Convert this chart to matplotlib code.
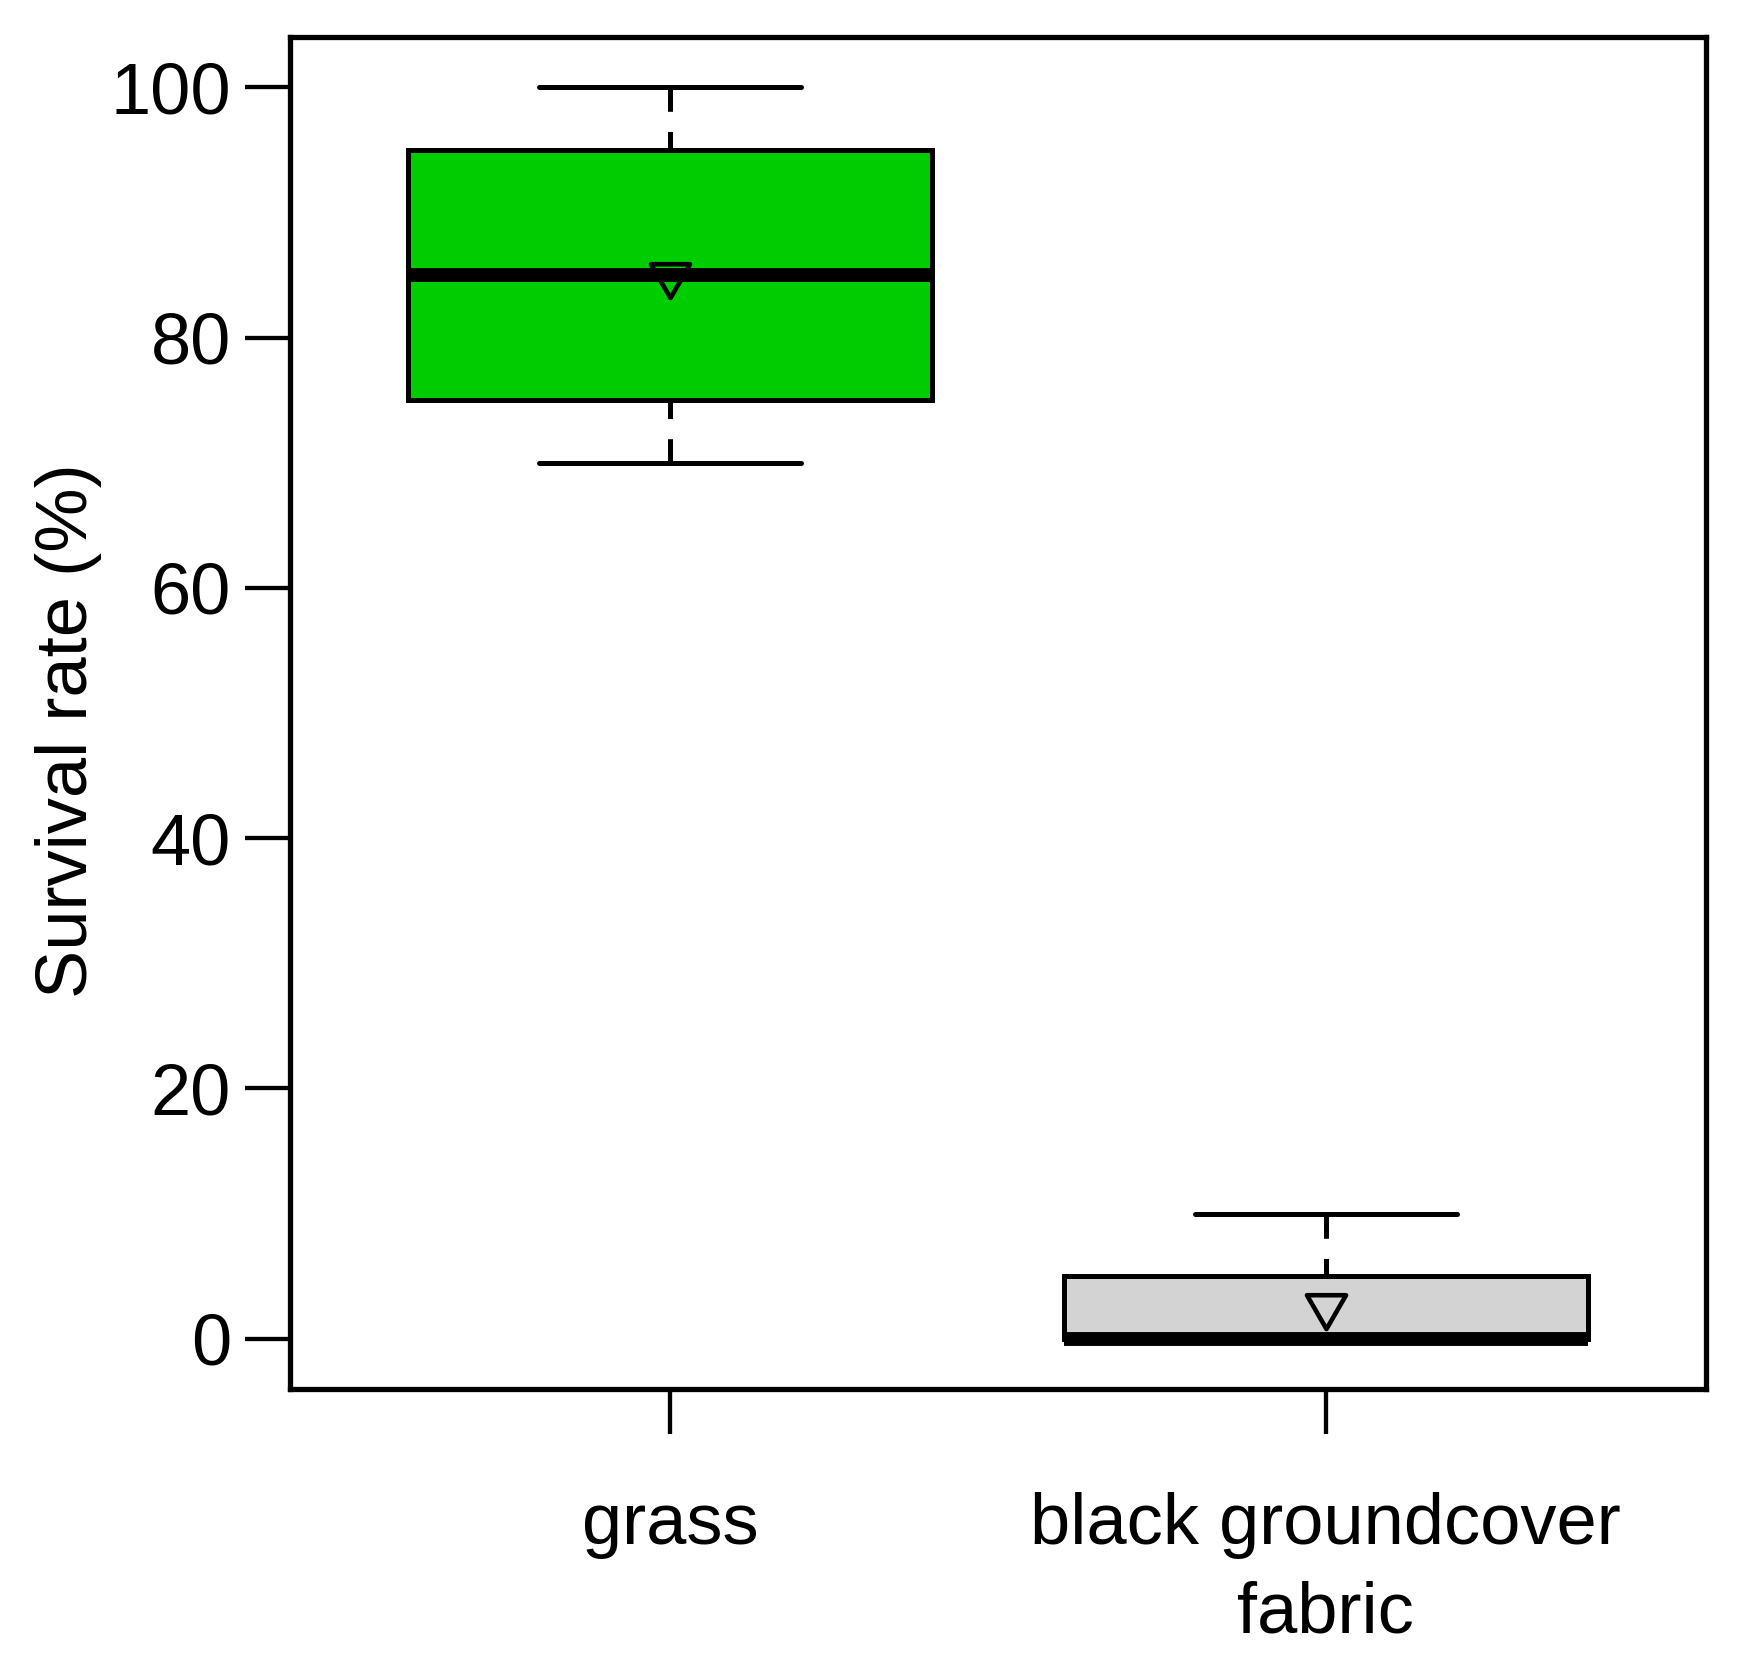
import matplotlib
matplotlib.use("Agg")
import matplotlib.pyplot as plt
from matplotlib.path import Path
import numpy as np

plt.rcParams['font.family'] = ['Liberation Sans', 'DejaVu Sans']
plt.rcParams['lines.scale_dashes'] = False

# ---- data ----
categories = ["grass", "black groundcover\nfabric"]
whisker_low = [70, 0]
q1 = [75, 0]
medians = [85, 0]
q3 = [95, 5]
whisker_high = [100, 10]
means = [85, 2.6]
box_colors = ["#00CD00", "#D3D3D3"]
y_ticks = [0, 20, 40, 60, 80, 100]
y_label = "Survival rate (%)"

W, H = 1746, 1671
fig = plt.figure(figsize=(W / 100, H / 100), dpi=100)
ax = fig.add_axes([290 / W, 1 - 1388.8 / H, (1706 - 290) / W, (1388.8 - 37.3) / H])

stats = []
for i, c in enumerate(categories):
    stats.append(dict(label=c, whislo=whisker_low[i], q1=q1[i], med=medians[i],
                      q3=q3[i], whishi=whisker_high[i], mean=means[i], fliers=[]))

lw = 3.6
# equilateral downward triangle, centroid at origin
h = np.sqrt(3) / 2
tri = Path([(-0.5, h / 3), (0.5, h / 3), (0, -2 * h / 3), (-0.5, h / 3)],
           [Path.MOVETO, Path.LINETO, Path.LINETO, Path.CLOSEPOLY])

bp = ax.bxp(stats, positions=[1, 2], widths=0.8, capwidths=0.4, patch_artist=True,
            showmeans=True, showfliers=False,
            boxprops=dict(linewidth=lw, edgecolor='black'),
            medianprops=dict(color='black', linewidth=10, solid_capstyle='butt'),
            whiskerprops=dict(color='black', linewidth=lw, linestyle=(0, (17.5, 14.5)),
                              dash_capstyle='butt'),
            capprops=dict(color='black', linewidth=lw, solid_capstyle='round'),
            meanprops=dict(marker=tri, markersize=32.5, markerfacecolor='none',
                           markeredgecolor='black', markeredgewidth=3.3))
for patch, col in zip(bp['boxes'], box_colors):
    patch.set_facecolor(col)
    patch.set_joinstyle('miter')
# draw whiskers from the extreme towards the box, as R does
for wl in bp['whiskers']:
    wl.set_ydata(list(wl.get_ydata())[::-1])
    wl.set_xdata(list(wl.get_xdata())[::-1])

ax.set_xlim(0.42, 2.58)
ax.set_ylim(-4, 104)
ax.set_yticks(y_ticks)
ax.set_xticks([1, 2])
ax.set_xticklabels(categories, linespacing=1.4)
for s in ax.spines.values():
    s.set_linewidth(3.8)
ax.tick_params(axis='both', length=32.5, width=3.1, labelsize=52, direction='out')
ax.tick_params(axis='y', pad=10)
ax.tick_params(axis='x', pad=42)

fig.text(69 / W, 1 - 731 / H, y_label, rotation=90, ha='center', va='center', fontsize=52)

fig.savefig("out.png", dpi=100)
